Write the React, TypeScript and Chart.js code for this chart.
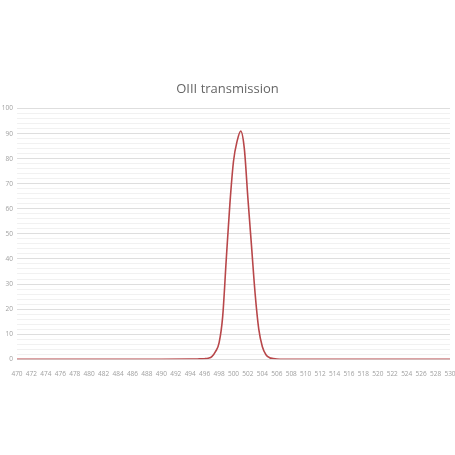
import { useEffect, useRef } from 'react';
import Chart from 'chart.js/auto';

const title = 'OIII transmission';

const wavelengths = [
  470, 480, 490, 494, 495, 496, 496.5, 497, 497.5, 498, 498.5, 499, 499.5, 500,
  500.5, 501, 501.5, 502, 502.5, 503, 503.5, 504, 504.5, 505, 505.5, 506, 507,
  510, 520, 530,
];
const transmission = [
  0, 0, 0, 0.05, 0.1, 0.2, 0.4, 1, 3, 6.5, 17, 40, 62, 79,
  87, 91, 84, 64, 45, 26, 12, 5, 1.8, 0.6, 0.3, 0.1, 0,
  0, 0, 0,
];

const xMin = 470;
const xMax = 530;
const yMin = 0;
const yMax = 100;

const App = () => {
  const chartRef = useRef<HTMLCanvasElement>(null);
  const chartInstance = useRef<Chart | null>(null);

  useEffect(() => {
    if (!chartRef.current) return;

    if (chartInstance.current) {
      chartInstance.current.destroy();
    }

    const points = wavelengths.map((w, i) => ({ x: w, y: transmission[i] }));

    chartInstance.current = new Chart(chartRef.current, {
      type: 'line',
      data: {
        datasets: [{
          label: title,
          data: points,
          borderColor: '#b8474a',
          borderWidth: 1.6,
          pointRadius: 0,
          fill: false,
          cubicInterpolationMode: 'monotone',
        }]
      },
      options: {
        animation: false,
        responsive: true,
        maintainAspectRatio: false,
        layout: {
          padding: { top: 81, bottom: 74, left: 0, right: 0 }
        },
        plugins: {
          legend: { display: false },
          tooltip: { enabled: false },
          title: {
            display: true,
            text: title,
            color: '#666',
            font: { family: 'Open Sans', size: 13, weight: 'normal' },
            padding: { top: 0, bottom: 12 },
          },
        },
        scales: {
          x: {
            type: 'linear',
            min: xMin,
            max: xMax,
            grid: { display: false },
            border: { display: false },
            afterFit: (scale) => {
              scale.paddingLeft = 0;
              scale.paddingRight = 5;
            },
            ticks: {
              stepSize: 2,
              autoSkip: false,
              maxRotation: 0,
              padding: 3,
              color: '#a0a0a0',
              font: { family: 'Open Sans', size: 6.5 },
            },
          },
          y: {
            min: yMin,
            max: yMax,
            border: { display: false },
            afterFit: (scale) => {
              scale.width = 17;
            },
            grid: {
              drawTicks: false,
              color: (ctx) => (ctx.tick && ctx.tick.value % 10 === 0 ? '#dedede' : '#f1f1f1'),
            },
            ticks: {
              stepSize: 2,
              autoSkip: false,
              padding: 4,
              color: '#a0a0a0',
              font: { family: 'Open Sans', size: 6.5 },
              callback: (value) => (Number(value) % 10 === 0 ? String(value) : ''),
            },
          },
        },
      },
    });

    return () => {
      if (chartInstance.current) {
        chartInstance.current.destroy();
        chartInstance.current = null;
      }
    };
  }, []);

  return (
    <div style={{ position: 'fixed', left: 0, top: 0, width: 455, height: 455, background: '#fff' }}>
      <canvas ref={chartRef} />
    </div>
  );
};

export default App;
